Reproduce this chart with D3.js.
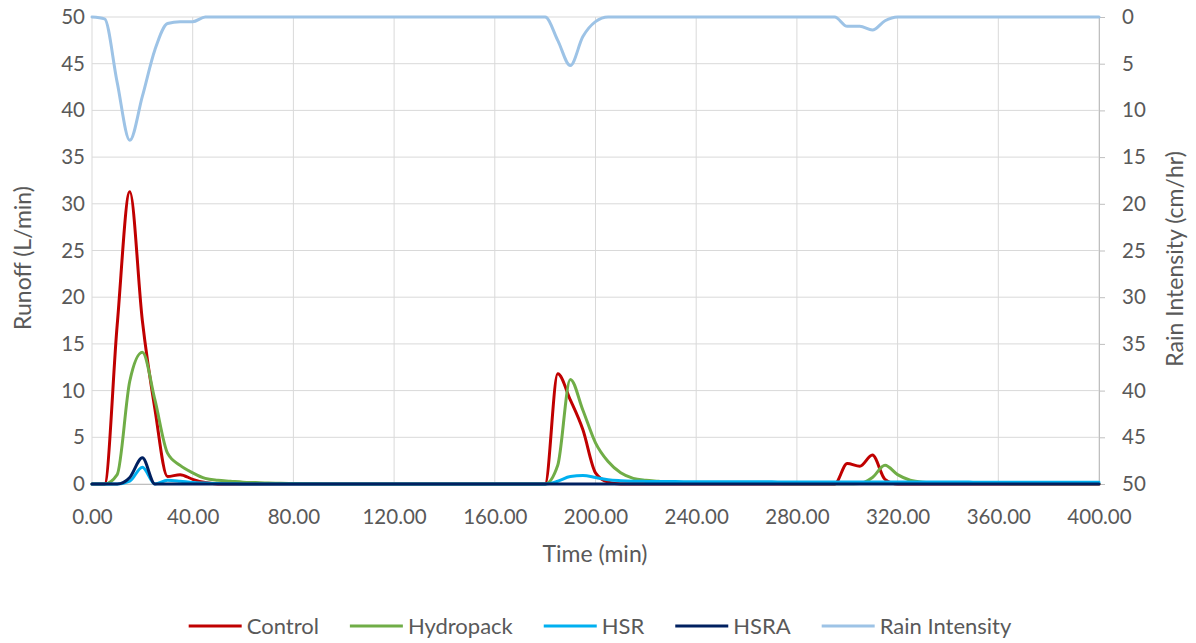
<!DOCTYPE html>
<html>
<head>
<meta charset="utf-8">
<script src="https://cdn.jsdelivr.net/npm/d3@7"></script>
<style>
  html, body { margin: 0; padding: 0; background: #fff; }
  svg { display: block; font-family: Lato, "Open Sans", sans-serif; }
</style>
</head>
<body>
<svg id="chart" width="1196" height="643"></svg>
<script>
// ---- data (time step 5 min, 0..400) ----
const times = d3.range(0, 401, 5);

const xTicks = [0, 40, 80, 120, 160, 200, 240, 280, 320, 360, 400];
const yTicksLeft = [0, 5, 10, 15, 20, 25, 30, 35, 40, 45, 50];
const yTicksRight = [0, 5, 10, 15, 20, 25, 30, 35, 40, 45, 50];

const seriesNames = ["Control", "Hydropack", "HSR", "HSRA", "Rain Intensity"];

// each row = 20 points (100 min)
const control = [
  0, 0, 17, 31.3, 17.5, 8, 0.8, 1.0, 0.5, 0.15, 0, 0, 0, 0, 0, 0, 0, 0, 0, 0,
  0, 0, 0, 0, 0, 0, 0, 0, 0, 0, 0, 0, 0, 0, 0, 0, 0, 11.8, 9, 5.8,
  1.2, 0.2, 0, 0, 0, 0, 0, 0, 0, 0, 0, 0, 0, 0, 0, 0, 0, 0, 0, 0,
  2.2, 1.9, 3.1, 0.5, 0, 0, 0, 0, 0, 0, 0, 0, 0, 0, 0, 0, 0, 0, 0, 0,
  0
];
const hydropack = [
  0, 0, 1.0, 11, 14.1, 9, 3.3, 2.0, 1.2, 0.6, 0.4, 0.3, 0.2, 0.15, 0.1, 0.08, 0.05, 0.03, 0.02, 0,
  0, 0, 0, 0, 0, 0, 0, 0, 0, 0, 0, 0, 0, 0, 0, 0, 0, 2.0, 11.2, 7.9,
  4.4, 2.4, 1.2, 0.6, 0.4, 0.3, 0.2, 0.15, 0.1, 0.1, 0.1, 0.08, 0.06, 0.05, 0.05, 0.04, 0.03, 0.02, 0.02, 0.02,
  0.02, 0.05, 0.7, 2.0, 1.0, 0.4, 0.2, 0.15, 0.1, 0.08, 0.06, 0.05, 0.05, 0.04, 0.04, 0.03, 0.03, 0.03, 0.02, 0.02,
  0.02
];
const hsr = [
  0, 0, 0, 0.3, 1.8, 0, 0.4, 0.3, 0.15, 0.1, 0.05, 0.03, 0, 0, 0, 0, 0, 0, 0, 0,
  0, 0, 0, 0, 0, 0, 0, 0, 0, 0, 0, 0, 0, 0, 0, 0, 0, 0.3, 0.8, 0.9,
  0.7, 0.45, 0.35, 0.3, 0.28, 0.27, 0.26, 0.25, 0.25, 0.25, 0.24, 0.24, 0.23, 0.23, 0.23, 0.22, 0.22, 0.22, 0.22, 0.22,
  0.22, 0.22, 0.22, 0.22, 0.22, 0.21, 0.21, 0.21, 0.21, 0.21, 0.2, 0.2, 0.2, 0.2, 0.2, 0.2, 0.2, 0.2, 0.2, 0.2,
  0.2
];
const hsra = [
  0, 0, 0, 0.7, 2.8, 0, 0, 0, 0, 0, 0, 0, 0, 0, 0, 0, 0, 0, 0, 0,
  0, 0, 0, 0, 0, 0, 0, 0, 0, 0, 0, 0, 0, 0, 0, 0, 0, 0, 0, 0,
  0, 0, 0, 0, 0, 0, 0, 0, 0, 0, 0, 0, 0, 0, 0, 0, 0, 0, 0, 0,
  0, 0, 0, 0, 0, 0, 0, 0, 0, 0, 0, 0, 0, 0, 0, 0, 0, 0, 0, 0,
  0
];
const rain = [
  0, 0.2, 7, 13.2, 8.5, 3.5, 0.7, 0.5, 0.5, 0, 0, 0, 0, 0, 0, 0, 0, 0, 0, 0,
  0, 0, 0, 0, 0, 0, 0, 0, 0, 0, 0, 0, 0, 0, 0, 0, 0, 2.5, 5.2, 2.1,
  0.5, 0, 0, 0, 0, 0, 0, 0, 0, 0, 0, 0, 0, 0, 0, 0, 0, 0, 0, 0,
  1.0, 1.0, 1.4, 0.4, 0, 0, 0, 0, 0, 0, 0, 0, 0, 0, 0, 0, 0, 0, 0, 0,
  0
];

const colors = ["#C00000", "#70AD47", "#00B0F0", "#002060", "#9DC3E6"];

// ---- layout ----
const svg = d3.select("#chart");
const pL = 92, pR = 1099, pT = 17, pB = 484;

const x = d3.scaleLinear().domain([0, 400]).range([pL, pR]);
const yL = d3.scaleLinear().domain([0, 50]).range([pB, pT]);
const yR = d3.scaleLinear().domain([0, 50]).range([pT, pB]);

const textColor = "#595959";
const gridColor = "#D9D9D9";
const fontFam = "Lato, 'Open Sans', sans-serif";
const tickFont = "20.5px";

svg.append("g").selectAll("line").data(yTicksLeft).join("line")
  .attr("x1", pL).attr("x2", pR)
  .attr("y1", d => yL(d)).attr("y2", d => yL(d))
  .attr("stroke", gridColor).attr("stroke-width", 1);
svg.append("g").selectAll("line").data(xTicks).join("line")
  .attr("x1", d => x(d)).attr("x2", d => x(d))
  .attr("y1", pT).attr("y2", pB)
  .attr("stroke", gridColor).attr("stroke-width", 1);

const gx = svg.append("g").attr("transform", `translate(0,${pB})`)
  .call(d3.axisBottom(x).tickValues(xTicks).tickFormat(d3.format(".2f")).tickSize(0).tickPadding(25));
gx.select(".domain").attr("stroke", "#BFBFBF");
gx.selectAll("text").attr("fill", textColor).style("font-size", tickFont).style("font-family", fontFam);

const gl = svg.append("g").attr("transform", `translate(${pL},0)`)
  .call(d3.axisLeft(yL).tickValues(yTicksLeft).tickSize(0).tickPadding(7));
gl.select(".domain").remove();
gl.selectAll("text").attr("fill", textColor).style("font-size", tickFont).style("font-family", fontFam);

const gr = svg.append("g").attr("transform", `translate(${pR},0)`)
  .call(d3.axisRight(yR).tickValues(yTicksRight).tickSize(6).tickPadding(17));
gr.select(".domain").attr("stroke", "#BFBFBF");
gr.selectAll(".tick line").attr("stroke", "#BFBFBF");
gr.selectAll("text").attr("fill", textColor).style("font-size", tickFont).style("font-family", fontFam);

const lineL = d3.line().x((d, i) => x(times[i])).y(d => yL(d)).curve(d3.curveMonotoneX);
const lineR = d3.line().x((d, i) => x(times[i])).y(d => yR(d)).curve(d3.curveMonotoneX);
[control, hydropack, hsr, hsra].forEach((s, k) => {
  svg.append("path").datum(s).attr("d", lineL)
    .attr("fill", "none").attr("stroke", colors[k]).attr("stroke-width", 3)
    .attr("stroke-linejoin", "round").attr("stroke-linecap", "round");
});
svg.append("path").datum(rain).attr("d", lineR)
  .attr("fill", "none").attr("stroke", colors[4]).attr("stroke-width", 3)
  .attr("stroke-linejoin", "round").attr("stroke-linecap", "round");

svg.append("text").attr("transform", `translate(31,258) rotate(-90)`)
  .attr("text-anchor", "middle").attr("fill", textColor).style("font-size", "23px")
  .text("Runoff (L/min)");
svg.append("text").attr("transform", `translate(1183,259) rotate(-90)`)
  .attr("text-anchor", "middle").attr("fill", textColor).style("font-size", "23px")
  .text("Rain Intensity (cm/hr)");
svg.append("text").attr("x", 595).attr("y", 562)
  .attr("text-anchor", "middle").attr("fill", textColor).style("font-size", "23px")
  .text("Time (min)");

const lg = svg.append("g");
const lineLen = 53, gapText = 5, gapItem = 31, legY = 626;
const items = [];
seriesNames.forEach((name, k) => {
  const g = lg.append("g");
  g.append("line").attr("x1", 0).attr("x2", lineLen).attr("y1", 0).attr("y2", 0)
    .attr("stroke", colors[k]).attr("stroke-width", 3);
  const t = g.append("text").attr("x", lineLen + gapText).attr("y", 0).attr("dy", "0.35em")
    .attr("fill", textColor).style("font-size", "22px").text(name);
  items.push({ g, w: lineLen + gapText + t.node().getComputedTextLength() });
});
const total = d3.sum(items, d => d.w) + gapItem * (items.length - 1);
let cx = 600 - total / 2;
items.forEach(it => {
  it.g.attr("transform", `translate(${cx},${legY})`);
  cx += it.w + gapItem;
});
</script>
</body>
</html>
